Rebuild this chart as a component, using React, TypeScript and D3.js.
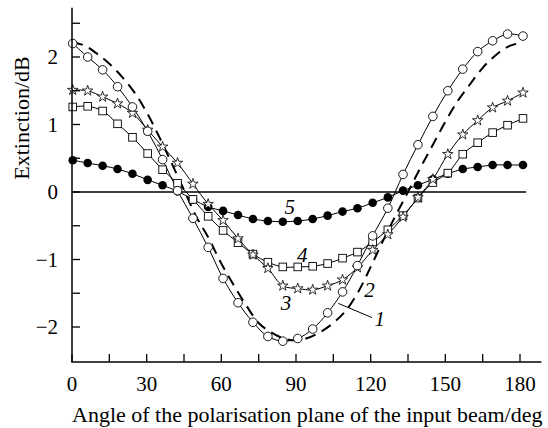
import React from "react";
import * as d3 from "d3";

// Angles at which markers were measured (deg)
const angles = [0.3, 6.3, 12.3, 18.3, 24.3, 30.4, 36.4, 42.4, 48.6, 54.7, 60.7, 66.7, 72.7, 78.7, 84.7, 90.7, 96.7, 102.7, 108.7, 114.7, 120.8, 126.9, 133, 139, 145, 151, 157, 163, 169, 175, 181.2];

// Curve 1: open circles
const series1 = [2.20, 2.00, 1.81, 1.56, 1.26, 0.90, 0.48, 0.02, -0.39, -0.82, -1.28, -1.64, -1.93, -2.14, -2.21, -2.17, -2.03, -1.79, -1.48, -1.09, -0.65, -0.24, 0.26, 0.70, 1.12, 1.50, 1.82, 2.08, 2.24, 2.34, 2.31];
// Curve 3: stars
const series3 = [1.51, 1.50, 1.41, 1.31, 1.17, 0.92, 0.67, 0.43, 0.12, -0.18, -0.42, -0.69, -0.93, -1.13, -1.39, -1.43, -1.45, -1.39, -1.30, -1.12, -0.86, -0.63, -0.37, -0.08, 0.19, 0.56, 0.85, 1.06, 1.25, 1.35, 1.47];
// Curve 4: squares
const series4 = [1.26, 1.27, 1.20, 1.01, 0.81, 0.57, 0.33, 0.13, -0.11, -0.36, -0.57, -0.75, -0.92, -1.04, -1.11, -1.11, -1.10, -1.06, -0.98, -0.89, -0.74, -0.56, -0.35, -0.09, 0.14, 0.28, 0.56, 0.73, 0.88, 0.99, 1.09];
// Curve 5: filled circles
const series5 = [0.47, 0.43, 0.39, 0.34, 0.27, 0.18, 0.10, 0.01, -0.11, -0.22, -0.28, -0.34, -0.40, -0.43, -0.44, -0.43, -0.40, -0.35, -0.29, -0.24, -0.16, -0.08, 0.02, 0.10, 0.19, 0.27, 0.34, 0.37, 0.40, 0.40, 0.40];

// Curve 2: dashed (calculated curve)
const dashedAngles = [0, 5, 10, 15, 20, 25, 30, 35, 40, 45, 50, 55, 60, 65, 70, 75, 80, 85, 90, 95, 100, 105, 110, 115, 120, 125, 130, 135, 140, 145, 150, 155, 160, 165, 170, 175, 179];
const dashedValues = [2.22, 2.17, 2.05, 1.90, 1.71, 1.48, 1.18, 0.82, 0.43, 0.03, -0.37, -0.69, -1.06, -1.38, -1.68, -1.94, -2.08, -2.17, -2.20, -2.16, -2.07, -1.94, -1.76, -1.48, -1.11, -0.72, -0.35, 0.0, 0.36, 0.70, 1.04, 1.35, 1.60, 1.84, 2.02, 2.15, 2.20];

const xTicks = [0, 15, 30, 45, 60, 75, 90, 105, 120, 135, 150, 165, 180];
const xLabels = [0, 30, 60, 90, 120, 150, 180];
const yTicks = [-2, -1.5, -1, -0.5, 0, 0.5, 1, 1.5, 2, 2.5];
const yLabels = [-2, -1, 0, 1, 2];

const curveLabels = [
  { text: "1", x: 123.6, y: -1.88 },
  { text: "2", x: 119.5, y: -1.45 },
  { text: "3", x: 86, y: -1.65 },
  { text: "4", x: 92.5, y: -0.93 },
  { text: "5", x: 87.5, y: -0.22 },
];

const FONT = "Liberation Serif, Times New Roman, DejaVu Serif, serif";

export default function App() {
  const x = d3.scaleLinear().domain([0, 180]).range([72, 520]);
  const y = d3.scaleLinear().domain([0, 2]).range([192, 57]);

  const line = d3
    .line<[number, number]>()
    .x((d) => x(d[0]))
    .y((d) => y(d[1]))
    .curve(d3.curveCatmullRom.alpha(0.5));

  const pts = (vals: number[]) => angles.map((a, i) => [a, vals[i]] as [number, number]);
  const dashedPts = dashedAngles.map((a, i) => [a, dashedValues[i]] as [number, number]);

  const starPath = d3.symbol().type(d3.symbolStar).size(34)() as string;

  const yTop = y(2.73);
  const yBottom = y(-2.52);
  const xRight = x(188.6);

  return (
    <svg
      width={548}
      height={428}
      style={{ position: "absolute", left: 0, top: 0, background: "#fff", fontFamily: FONT }}
    >
      <rect width={548} height={428} fill="#fff" />
      {/* zero line */}
      <line x1={x(0)} x2={x(182.5)} y1={y(0)} y2={y(0)} stroke="#000" strokeWidth={1.4} />

      {/* dashed curve 2 */}
      <path d={line(dashedPts) || ""} fill="none" stroke="#000" strokeWidth={2} strokeDasharray="11,7" />

      {/* solid connecting lines */}
      {[series1, series3, series4, series5].map((s, k) => (
        <path key={k} d={line(pts(s)) || ""} fill="none" stroke="#000" strokeWidth={1} />
      ))}

      {/* markers: filled circles (5) */}
      {series5.map((v, i) => (
        <circle key={"f" + i} cx={x(angles[i])} cy={y(v)} r={4.3} fill="#000" />
      ))}
      {/* squares (4) */}
      {series4.map((v, i) => (
        <rect key={"s" + i} x={x(angles[i]) - 3.8} y={y(v) - 3.8} width={7.6} height={7.6} fill="#fff" stroke="#000" strokeWidth={0.9} />
      ))}
      {/* stars (3) */}
      {series3.map((v, i) => (
        <path key={"t" + i} d={starPath} transform={`translate(${x(angles[i])},${y(v)})`} fill="#fff" stroke="#000" strokeWidth={0.8} />
      ))}
      {/* open circles (1) */}
      {series1.map((v, i) => (
        <circle key={"o" + i} cx={x(angles[i])} cy={y(v)} r={4.3} fill="#fff" stroke="#000" strokeWidth={0.9} />
      ))}

      {/* leader line for label 1 */}
      <line x1={x(107)} y1={y(-1.65)} x2={x(120.5)} y2={y(-1.86)} stroke="#000" strokeWidth={1} />

      {/* curve labels */}
      {curveLabels.map((l) => (
        <text key={l.text} x={x(l.x)} y={y(l.y) + 7} fontSize={21} fontStyle="italic" textAnchor="middle">
          {l.text}
        </text>
      ))}

      {/* axes */}
      <line x1={x(0)} x2={x(0)} y1={yTop} y2={yBottom} stroke="#000" strokeWidth={1.5} />
      <line x1={x(0) - 0.75} x2={xRight} y1={yBottom} y2={yBottom} stroke="#000" strokeWidth={1.5} />

      {yTicks.map((t) => (
        <line key={"yt" + t} x1={x(0)} x2={x(0) + 8} y1={y(t)} y2={y(t)} stroke="#000" strokeWidth={1.3} />
      ))}
      {xTicks.map((t) => (
        <line key={"xt" + t} x1={x(t)} x2={x(t)} y1={yBottom} y2={yBottom - 8} stroke="#000" strokeWidth={1.3} />
      ))}

      {yLabels.map((t) => (
        <text key={"yl" + t} x={58} y={y(t) + 7} fontSize={21} textAnchor="end">
          {t < 0 ? "\u2212" + Math.abs(t) : String(t)}
        </text>
      ))}
      {xLabels.map((t) => (
        <text key={"xl" + t} x={x(t)} y={390.5} fontSize={21} textAnchor="middle">
          {t}
        </text>
      ))}

      <text x={72} y={421.5} fontSize={22} textAnchor="start">
        Angle of the polarisation plane of the input beam/deg
      </text>
      <text
        transform={`translate(29,118) rotate(-90)`}
        fontSize={22}
        textAnchor="middle"
      >
        Extinction/dB
      </text>
    </svg>
  );
}
